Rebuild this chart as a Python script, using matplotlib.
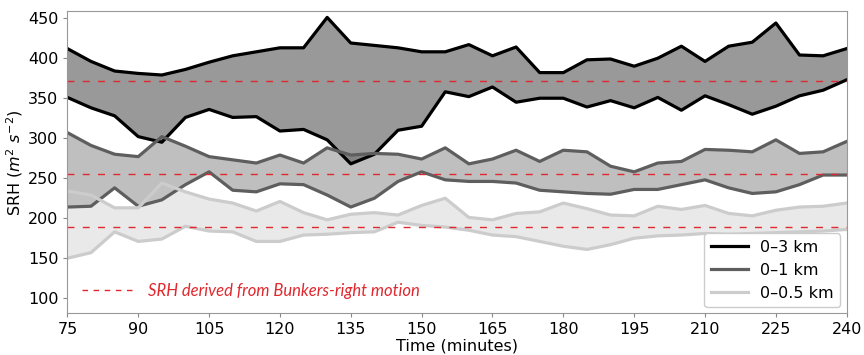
import numpy as np
import matplotlib
matplotlib.use("Agg")
import matplotlib.pyplot as plt
from matplotlib.lines import Line2D

# Tempo di simulazione (minuti)
time = np.arange(75, 241, 5)

# SRH 0-3 km: massimo e minimo tra i membri
srh3_max = [412, 396, 384, 381, 379, 386, 395, 403, 408, 413, 413, 451,
            419, 416, 413, 408, 408, 417, 403, 414, 382, 382,
            398, 399, 390, 400, 415, 396, 415, 420, 444, 404, 403, 412]
srh3_min = [351, 338, 328, 302, 295, 326, 336, 326, 327, 309, 311, 298,
            268, 280, 310, 315, 358, 352, 364, 345, 350, 350,
            339, 347, 338, 351, 335, 353, 342, 330, 340, 353, 360, 373]

# SRH 0-1 km
srh1_max = [307, 291, 280, 277, 302, 290, 277, 273, 269, 279, 269, 288,
            279, 281, 280, 274, 288, 268, 274, 285, 271, 285,
            283, 265, 258, 269, 271, 286, 285, 283, 298, 281, 283, 296]
srh1_min = [214, 215, 238, 215, 223, 242, 258, 235, 233, 243, 242, 229,
            214, 225, 246, 258, 248, 246, 246, 244, 235, 233,
            231, 230, 236, 236, 242, 248, 238, 231, 233, 242, 254, 254]

# SRH 0-0.5 km
srh05_max = [234, 229, 213, 213, 244, 233, 224, 219, 209, 221, 207, 198,
             205, 207, 204, 216, 225, 201, 198, 206, 208, 219,
             212, 204, 203, 215, 211, 216, 206, 203, 210, 214, 215, 219]
srh05_min = [150, 157, 183, 171, 174, 190, 184, 183, 171, 171, 179, 180,
             182, 183, 195, 191, 189, 185, 179, 177, 171, 165,
             161, 167, 175, 178, 179, 181, 180, 181, 182, 183, 184, 186]

# SRH dal moto di Bunkers (destra)
bunkers = [371, 255, 189]

labels = ["0\u20133 km", "0\u20131 km", "0\u20130.5 km"]
line_cols = ["black", "#5e5e5e", "#cccccc"]
fill_cols = ["black", "#606060", "#c8c8c8"]

fig, ax = plt.subplots(figsize=(8.64, 3.55), dpi=100)
fig.subplots_adjust(left=0.078, right=0.980, bottom=0.117, top=0.969)

bande = [(srh3_min, srh3_max), (srh1_min, srh1_max), (srh05_min, srh05_max)]
for (lo, hi), lc, fc in zip(bande, line_cols, fill_cols):
    ax.fill_between(time, lo, hi, color=fc, alpha=0.4, linewidth=0)
    ax.plot(time, hi, color=lc, lw=2.3)
    ax.plot(time, lo, color=lc, lw=2.3)

for b in bunkers:
    ax.axhline(b, color="#e0282e", lw=1, dashes=(5, 6))

ax.set_xlim(75, 240)
ax.set_ylim(81, 459)
ax.set_xticks(np.arange(75, 241, 15))
ax.set_yticks(np.arange(100, 451, 50))
ax.tick_params(labelsize=11.5, color="#888888", length=3)
for s in ax.spines.values():
    s.set_color("#999999")

ax.set_xlabel("Time (minutes)", fontsize=11.5, labelpad=1)
ax.set_ylabel(r"SRH ($m^2\ s^{-2}$)", fontsize=11.5, labelpad=2)

handles = [Line2D([], [], color=c, lw=2.3) for c in line_cols]
leg = ax.legend(handles, labels, loc="lower right", fontsize=11.5,
                handlelength=2.3, borderaxespad=0.4, framealpha=1)
ax.add_artist(leg)

proxy = Line2D([], [], color="#e0282e", lw=1, dashes=(4, 4))
ax.legend([proxy], ["SRH derived from Bunkers-right motion"], loc="lower left",
          frameon=False, handlelength=3.2, borderaxespad=0.45,
          prop={"family": "Lato", "style": "italic", "size": 12},
          labelcolor="#e0282e")

plt.savefig("out.png")
